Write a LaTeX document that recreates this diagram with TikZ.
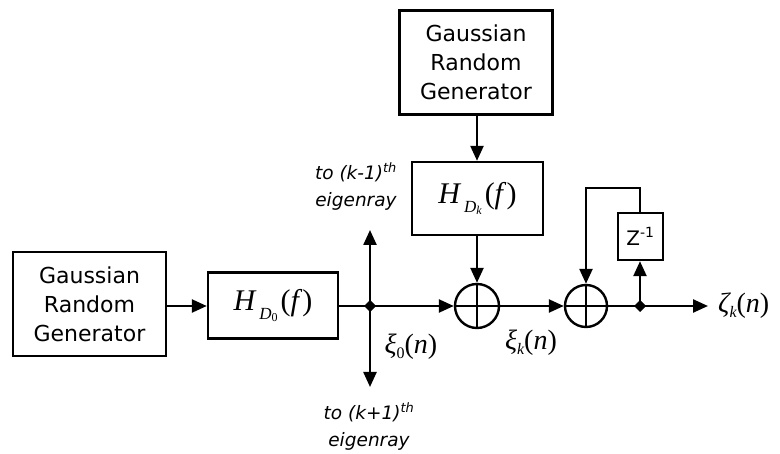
\documentclass[tikz,border=0pt]{standalone}
\usepackage{fontspec}
\setmainfont{DejaVu Sans}
\newfontfamily\tms{Liberation Serif}
\usetikzlibrary{arrows.meta}
\newcommand{\lowsub}[3]{\raisebox{-#1}{\fontsize{#2}{#2}\selectfont #3}}
\begin{document}
\begin{tikzpicture}[x=1pt,y=-1pt,line width=2.4pt,
  >={Triangle[length=15pt,width=13pt]},
  box/.style={draw,line width=2.4pt,inner sep=0pt,align=center},
  grg/.style={box,minimum width=153pt,minimum height=104pt,font=\fontsize{22}{29}\selectfont},
  filt/.style={box,minimum width=130pt,minimum height=66pt,font=\tms\fontsize{30}{34}\selectfont},
  summ/.style={draw,circle,line width=2.4pt,minimum size=44pt,inner sep=0pt},
  lab/.style={font=\fontsize{18.5}{27}\selectfont\itshape,align=center,inner sep=0pt},
  mlab/.style={font=\tms\fontsize{28}{32}\selectfont,inner sep=0pt}]
\useasboundingbox (0,0) rectangle (780,454);
\node[grg] (g1) at (89.5,304) {Gaussian\\Random\\Generator};
\node[filt] (h0) at (273,305.5) {\itshape H\hspace{4pt}\lowsub{9pt}{17}{D\lowsub{2pt}{12}{\upshape 0}}\hspace{3pt}\upshape(\itshape f\/\upshape)};
\fill (370,300) -- (376,306) -- (370,312) -- (364,306) -- cycle;
\coordinate (j1) at (370,306);
\coordinate (up) at (370,230);
\coordinate (dn) at (370,387);
\node[summ] (s1) at (477,306) {};
\node[grg] (g2) at (476,62.5) {Gaussian\\Random\\Generator};
\node[filt,minimum width=131pt,minimum height=73pt] (hk) at (477.5,198.5) {\itshape H\hspace{4pt}\lowsub{9pt}{17}{D\lowsub{2pt}{12}{k}}\hspace{3pt}\upshape(\itshape f\/\upshape)};
\node[summ,minimum size=42pt] (s2) at (586,306) {};
\node[box,minimum width=45pt,minimum height=47pt,font=\fontsize{20}{24}\selectfont] (z) at (640.5,236.5) {Z\textsuperscript{-1}};
\fill (640,300) -- (646,306) -- (640,312) -- (634,306) -- cycle;
\coordinate (j2) at (640,306);
\coordinate (out) at (708,306);
\coordinate (fb1) at (640,188);
\coordinate (fb2) at (586,188);
\draw (s1.north) -- (s1.south) (s1.west) -- (s1.east);
\draw (s2.north) -- (s2.south) (s2.west) -- (s2.east);
\draw[->] (g1.east |- 0,306) -- (h0.west |- 0,306);
\draw (h0.east |- 0,306) -- (j1);
\draw[->] (j1) -- (up);
\draw[->] (j1) -- (dn);
\draw[->] (j1) -- (s1.west);
\draw[->] (g2.south -| 477,0) -- (hk.north -| 477,0);
\draw[->] (hk.south -| 477,0) -- (s1.north);
\draw[->] (s1.east) -- (s2.west);
\draw (s2.east) -- (j2);
\draw[->] (j2) -- (out);
\draw[->] (j2) -- (z.south -| 640,0);
\draw[->] (z.north -| 640,0) -- (fb1) -- (fb2) -- (s2.north);
\node[lab] (t1) at (356,186.5) {to (k-1)\textsuperscript{th}\\eigenray};
\node[lab] (t2) at (369,426.5) {to (k+1)\textsuperscript{th}\\eigenray};
\node[mlab] (x0) at (411,347) {\itshape ξ\lowsub{5pt}{16}{\upshape 0}\upshape(\itshape n\upshape)};
\node[mlab] (xk) at (531,343) {\itshape ξ\lowsub{5pt}{16}{k}\upshape(\itshape n\upshape)};
\node[mlab,anchor=west] (zk) at (717,306) {\itshape ζ\lowsub{5pt}{16}{k}\upshape(\itshape n\upshape)};
\end{tikzpicture}
\end{document}
